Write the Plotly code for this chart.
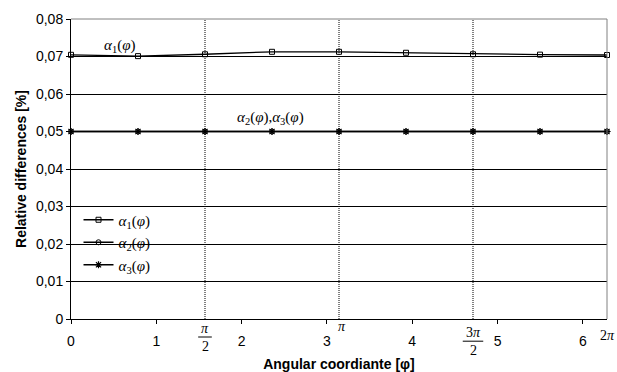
import math
import plotly.graph_objects as go

phi = [i * math.pi / 4 for i in range(9)]
alpha1 = [0.07045, 0.0701, 0.0706, 0.07125, 0.07125, 0.0710, 0.0706, 0.0705, 0.0704]
alpha2 = [0.05, 0.05, 0.05, 0.05, 0.05, 0.05, 0.05, 0.05, 0.05]
alpha3 = [0.05, 0.05, 0.05, 0.05, 0.05, 0.05, 0.05, 0.05, 0.05]

x_ticks = [0, 1, 2, 3, 4, 5, 6]
y_ticks = [0, 0.01, 0.02, 0.03, 0.04, 0.05, 0.06, 0.07, 0.08]
y_ticktext = ["0" if v == 0 else f"{v:.2f}".replace(".", ",") for v in y_ticks]
vlines = [math.pi / 2, math.pi, 3 * math.pi / 2]

SANS = "Liberation Sans, Arial, sans-serif"
SERIF = "Liberation Serif, Times New Roman, serif"

def lab(n):
    return f"<i>α</i><sub>{n}</sub>(<i>φ</i>)"

fig = go.Figure()
fig.add_trace(go.Scatter(x=phi, y=alpha1, mode="lines+markers", name=lab(1),
                         line=dict(color="black", width=1.3), cliponaxis=False,
                         marker=dict(symbol="square-open", size=5, color="black", line=dict(width=1))))
fig.add_trace(go.Scatter(x=phi, y=alpha2, mode="lines+markers", name=lab(2),
                         line=dict(color="black", width=1.3), cliponaxis=False,
                         marker=dict(symbol="circle-open", size=5, color="black", line=dict(width=1))))
fig.add_trace(go.Scatter(x=phi, y=alpha3, mode="lines+markers", name=lab(3),
                         line=dict(color="black", width=1.3), cliponaxis=False,
                         marker=dict(symbol="asterisk-open", size=6, color="black", line=dict(width=1.2))))

shapes = []
for v in vlines:
    shapes.append(dict(type="line", xref="x", yref="paper", x0=v, x1=v, y0=0, y1=1, layer="below",
                       line=dict(color="black", width=1, dash="1px,1px")))
# top and right border (gray)
shapes.append(dict(type="line", xref="paper", yref="paper", x0=0, x1=1, y0=1, y1=1,
                   line=dict(color="#808080", width=1)))
shapes.append(dict(type="line", xref="paper", yref="paper", x0=1, x1=1, y0=0, y1=1,
                   line=dict(color="#808080", width=1)))

annotations = []
pi_font = dict(family=SERIF, size=14, color="black")
# pi/2 fraction
annotations.append(dict(x=math.pi / 2, y=-0.03, xref="x", yref="paper", text="<i>π</i>",
                        showarrow=False, font=pi_font, yanchor="middle"))
annotations.append(dict(x=math.pi / 2, y=-0.093, xref="x", yref="paper", text="2",
                        showarrow=False, font=pi_font, yanchor="middle"))
shapes.append(dict(type="line", xref="x", yref="paper", x0=math.pi / 2 - 0.08, x1=math.pi / 2 + 0.08,
                   y0=-0.06, y1=-0.06, line=dict(color="black", width=1)))
# pi
annotations.append(dict(x=math.pi + 0.03, y=-0.025, xref="x", yref="paper", text="<i>π</i>",
                        showarrow=False, font=pi_font, yanchor="middle"))
# 3pi/2 fraction
annotations.append(dict(x=3 * math.pi / 2, y=-0.045, xref="x", yref="paper", text="3<i>π</i>",
                        showarrow=False, font=pi_font, yanchor="middle"))
annotations.append(dict(x=3 * math.pi / 2, y=-0.105, xref="x", yref="paper", text="2",
                        showarrow=False, font=pi_font, yanchor="middle"))
shapes.append(dict(type="line", xref="x", yref="paper", x0=3 * math.pi / 2 - 0.12, x1=3 * math.pi / 2 + 0.12,
                   y0=-0.074, y1=-0.074, line=dict(color="black", width=1)))
# 2pi
annotations.append(dict(x=2 * math.pi, y=-0.055, xref="x", yref="paper", text="2<i>π</i>",
                        showarrow=False, font=pi_font, yanchor="middle", xanchor="center"))

# curve labels
annotations.append(dict(x=0.57, y=0.0728, xref="x", yref="y", text=lab(1), showarrow=False,
                        font=dict(family=SERIF, size=15, color="black")))
annotations.append(dict(x=2.34, y=0.0537, xref="x", yref="y",
                        text=f"{lab(2)},{lab(3)}", showarrow=False,
                        font=dict(family=SERIF, size=15, color="black")))

fig.update_layout(
    width=617, height=372,
    margin=dict(l=71, r=10, t=19, b=53, autoexpand=False),
    paper_bgcolor="white", plot_bgcolor="white",
    font=dict(family=SANS, size=14, color="black"),
    showlegend=True,
    legend=dict(x=0.014, y=0.385, xanchor="left", yanchor="top",
                bgcolor="rgba(0,0,0,0)", font=dict(family=SERIF, size=15, color="black"),
                tracegroupgap=0, itemwidth=30),
    shapes=shapes,
    annotations=annotations,
)
fig.update_xaxes(range=[0, 2 * math.pi], tickvals=x_ticks, ticktext=[str(v) for v in x_ticks],
                 showgrid=False, zeroline=False, showline=True, linecolor="black", linewidth=1,
                 ticks="outside", ticklen=4, tickcolor="black", automargin=False,
                 ticklabelstandoff=5,
                 title=dict(text="<b>Angular coordiante [φ]</b>", font=dict(family=SANS, size=14), standoff=13))
fig.update_yaxes(range=[0, 0.08], tickvals=y_ticks, ticktext=y_ticktext,
                 showgrid=True, gridcolor="black", gridwidth=1, zeroline=False,
                 showline=True, linecolor="black", linewidth=1,
                 ticks="outside", ticklen=4, tickcolor="black", automargin=False,
                 title=dict(text="<b>Relative differences [%]</b>", font=dict(family=SANS, size=14), standoff=6))

fig.write_html("out.html", config={"displayModeBar": False},
               post_script="document.body.style.margin='0';document.body.style.padding='0';")
